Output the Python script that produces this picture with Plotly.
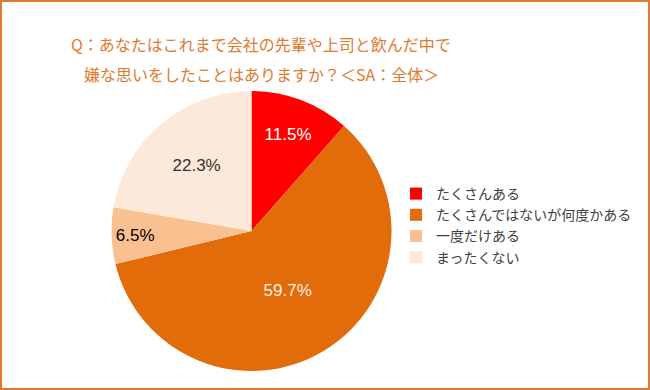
import plotly.graph_objects as go

labels = ["たくさんある", "たくさんではないが何度かある", "一度だけある", "まったくない"]
values = [11.5, 59.7, 6.5, 22.3]
colors = ["#FF0000", "#E26B0A", "#FAC090", "#FDE9D9"]
text_colors = ["#FFFFFF", "#FDF0E0", "#000000", "#333333"]

W, H = 650, 390
font = "Noto Sans CJK JP"

fig = go.Figure(go.Pie(
    labels=labels, values=values, sort=False, direction="clockwise", rotation=0,
    marker=dict(colors=colors, line=dict(width=0)),
    texttemplate="%{value:.1f}%", textposition="inside", insidetextorientation="horizontal",
    textfont=dict(color=text_colors, size=17, family="Arial"),
    domain=dict(x=[111/W, 392/W], y=[(H-371)/H, (H-91)/H]),
    hoverinfo="skip",
))

fig.update_layout(
    width=W, height=H, margin=dict(l=0, r=0, t=0, b=0),
    paper_bgcolor="white", plot_bgcolor="white",
    font=dict(family=font),
    legend=dict(x=396/W, y=1-178/H, xanchor="left", yanchor="top",
                font=dict(size=14, color="#404040", family=font),
                itemwidth=30, traceorder="normal"),
    shapes=[dict(type="rect", xref="paper", yref="paper", x0=0, x1=1, y0=0, y1=1,
                 line=dict(color="#E07A2E", width=4))],
    annotations=[
        dict(text="Q：あなたはこれまで会社の先輩や上司と飲んだ中で", x=261/W, y=1-30/H,
             xref="paper", yref="paper", showarrow=False,
             font=dict(size=16, color="#E07A2E", family=font)),
        dict(text="嫌な思いをしたことはありますか？＜SA：全体＞", x=261/W, y=1-60/H,
             xref="paper", yref="paper", showarrow=False,
             font=dict(size=16, color="#E07A2E", family=font)),
    ],
)

fig.write_html("out.html", config={"displayModeBar": False},
               post_script="document.body.style.margin='0';document.body.style.overflow='hidden';")
